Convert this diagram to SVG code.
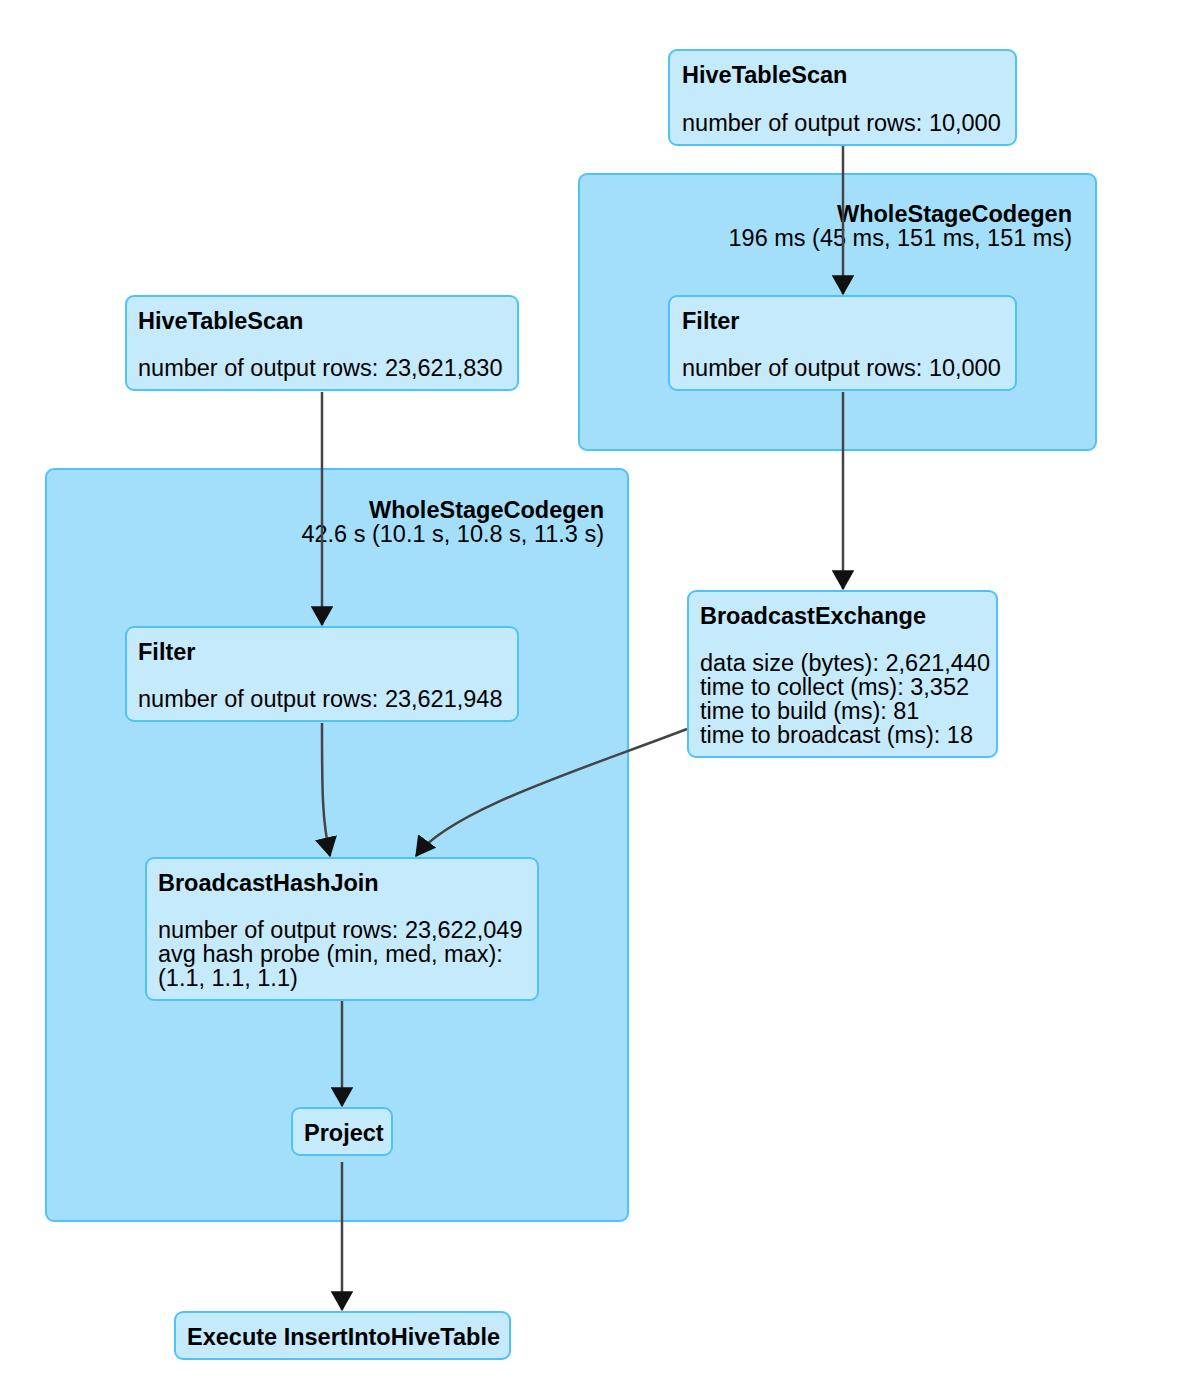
<svg xmlns="http://www.w3.org/2000/svg" width="1182" height="1396" viewBox="0 0 1182 1396">
<style>
.cl{fill:#a3dffa;stroke:#4fc3f7;stroke-width:2}
.nd{fill:#c5eafc;stroke:#4fc3f7;stroke-width:2}
text{font-family:"Liberation Sans",Arial,Helvetica,sans-serif;fill:#000}
.t{font-weight:bold;font-size:23.5px}
.m{font-size:23.5px}
.ce{font-size:23.5px;text-anchor:end}
.ct{font-weight:bold;font-size:23.5px;text-anchor:end}
.e{fill:none;stroke:#444;stroke-width:2.5}
</style>
<defs>
<marker id="ah" markerWidth="8" markerHeight="9" refX="7.5" refY="4.5" orient="auto" markerUnits="strokeWidth" viewBox="0 0 8 9">
<path d="M0,0 L8,4.5 L0,9 Z" fill="#111"/>
</marker>
</defs>
<g id="cluster-wsc1">
<rect class="cl" x="579" y="174" width="517" height="276" rx="8"/>
<text class="ct" x="1072" y="222">WholeStageCodegen</text>
<text class="ce" x="1072" y="246">196 ms (45 ms, 151 ms, 151 ms)</text>
</g>
<g id="cluster-wsc2">
<rect class="cl" x="46" y="469" width="582" height="752" rx="8"/>
<text class="ct" x="604" y="518">WholeStageCodegen</text>
<text class="ce" x="604" y="542">42.6 s (10.1 s, 10.8 s, 11.3 s)</text>
</g>
<g id="edges">
<path class="e" d="M843,146 L843,294" marker-end="url(#ah)"/>
<path class="e" d="M843,392 L843,589" marker-end="url(#ah)"/>
<path class="e" d="M322,392 L322,625" marker-end="url(#ah)"/>
<path class="e" d="M322,723 C322,790 322,820 330,856" marker-end="url(#ah)"/>
<path class="e" d="M687,729 C580,770 450,810 416,856" marker-end="url(#ah)"/>
<path class="e" d="M342,1001 L342,1106" marker-end="url(#ah)"/>
<path class="e" d="M342,1162 L342,1310" marker-end="url(#ah)"/>
</g>
<g id="hts-right">
<rect class="nd" x="669" y="50" width="347" height="95" rx="8"/>
<text class="t" x="682" y="83">HiveTableScan</text>
<text class="m" x="682" y="131">number of output rows: 10,000</text>
</g>
<g id="filter-right">
<rect class="nd" x="669" y="296" width="347" height="94" rx="8"/>
<text class="t" x="682" y="329">Filter</text>
<text class="m" x="682" y="376">number of output rows: 10,000</text>
</g>
<g id="hts-left">
<rect class="nd" x="126" y="296" width="392" height="94" rx="8"/>
<text class="t" x="138" y="329">HiveTableScan</text>
<text class="m" x="138" y="376">number of output rows: 23,621,830</text>
</g>
<g id="filter-left">
<rect class="nd" x="126" y="627" width="392" height="94" rx="8"/>
<text class="t" x="138" y="660">Filter</text>
<text class="m" x="138" y="707">number of output rows: 23,621,948</text>
</g>
<g id="broadcast-exchange">
<rect class="nd" x="688" y="591" width="309" height="166" rx="8"/>
<text class="t" x="700" y="624">BroadcastExchange</text>
<text class="m" x="700" y="671">data size (bytes): 2,621,440</text>
<text class="m" x="700" y="695">time to collect (ms): 3,352</text>
<text class="m" x="700" y="719">time to build (ms): 81</text>
<text class="m" x="700" y="743">time to broadcast (ms): 18</text>
</g>
<g id="broadcast-hash-join">
<rect class="nd" x="146" y="858" width="392" height="142" rx="8"/>
<text class="t" x="158" y="891">BroadcastHashJoin</text>
<text class="m" x="158" y="938">number of output rows: 23,622,049</text>
<text class="m" x="158" y="962">avg hash probe (min, med, max):</text>
<text class="m" x="158" y="986">(1.1, 1.1, 1.1)</text>
</g>
<g id="project">
<rect class="nd" x="292" y="1108" width="100" height="47" rx="8"/>
<text class="t" x="304" y="1141">Project</text>
</g>
<g id="execute-insert">
<rect class="nd" x="175" y="1312" width="335" height="47" rx="8"/>
<text class="t" x="187" y="1345">Execute InsertIntoHiveTable</text>
</g>
</svg>
